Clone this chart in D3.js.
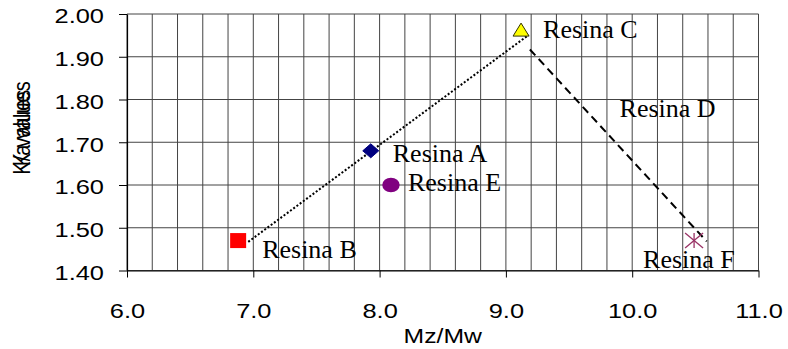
<!DOCTYPE html>
<html>
<head>
<meta charset="utf-8">
<script src="https://cdn.jsdelivr.net/npm/d3@7/dist/d3.min.js"></script>
<style>
  html, body { margin: 0; padding: 0; background: #fff; }
  svg { display: block; }
</style>
</head>
<body>
<svg id="chart" width="788" height="349"></svg>
<script>
// Resin samples: Mz/Mw ratio against K value
const resins  = ["Resina A", "Resina B", "Resina C", "Resina E", "Resina F"];
const mzMw    = [7.93, 6.88, 9.12, 8.09, 10.49];
const kValues = [1.68, 1.47, 1.96, 1.60, 1.47];
const markers = ["diamond", "square", "triangle", "circle", "star"];
const colors  = ["#000080", "#ff0000", "#ffff00", "#800080", "#993366"];

// Resina D is labelled without a plotted marker
const labelOnly  = ["Resina D"];
const labelOnlyX = [9.90];
const labelOnlyY = [1.76];

// Connecting lines drawn between the resin groups
const dottedLine = [[6.96, 1.467], [9.18, 1.951]];
const dashedLine = [[9.19, 1.917], [10.59, 1.468]];

// Axes
const xTicks = [6.0, 7.0, 8.0, 9.0, 10.0, 11.0];
const yTicks = [1.40, 1.50, 1.60, 1.70, 1.80, 1.90, 2.00];
const xGridStep = 0.2;
const xTitle = "Mz/Mw";
const yTitles = ["K values", "K/a values"];

const svg = d3.select("#chart");
const plotL = 127, plotR = 758.5, plotT = 14, plotB = 270.5;

const x = d3.scaleLinear().domain([6, 11]).range([plotL, plotR]);
const y = d3.scaleLinear().domain([1.4, 2.0]).range([plotB, plotT]);

const SANS = "'Liberation Sans', Arial, sans-serif";
const SERIF = "'Liberation Serif', 'Times New Roman', serif";
const sansStretch = 1.27;

// Grid
const xGrid = d3.range(0, Math.round((11 - 6) / xGridStep) + 1).map(i => 6 + i * xGridStep);
const grid = svg.append("g").attr("stroke", "#444").attr("stroke-width", 1);
grid.selectAll("line.v").data(xGrid).join("line")
  .attr("class", "v")
  .attr("x1", d => x(d)).attr("x2", d => x(d))
  .attr("y1", plotT).attr("y2", plotB);
grid.selectAll("line.h").data(yTicks).join("line")
  .attr("class", "h")
  .attr("x1", plotL).attr("x2", plotR)
  .attr("y1", d => y(d)).attr("y2", d => y(d));

// X axis
const xAxis = svg.append("g")
  .attr("transform", `translate(0,${plotB})`)
  .call(d3.axisBottom(x).tickValues(xTicks).tickFormat(d3.format(".1f"))
    .tickSizeInner(7).tickSizeOuter(0));
xAxis.select(".domain").attr("stroke", "#000").attr("stroke-width", 1.2);
xAxis.selectAll(".tick line").attr("stroke", "#000");
xAxis.selectAll(".tick text")
  .attr("y", 0).attr("dy", null)
  .attr("transform", `translate(0,47) scale(${sansStretch},1)`)
  .attr("font-family", SANS).attr("font-size", 20).attr("fill", "#000");

// Y axis
const yAxis = svg.append("g")
  .attr("transform", `translate(${plotL},0)`)
  .call(d3.axisLeft(y).tickValues(yTicks).tickFormat(d3.format(".2f"))
    .tickSizeInner(8).tickSizeOuter(0));
yAxis.select(".domain").attr("stroke", "#000").attr("stroke-width", 1.2);
yAxis.selectAll(".tick line").attr("stroke", "#000");
yAxis.selectAll(".tick text")
  .attr("x", 0).attr("dy", "0.32em")
  .attr("transform", `translate(-23,2.5) scale(${sansStretch},1)`)
  .attr("font-family", SANS).attr("font-size", 20).attr("fill", "#000");

// Axis titles
svg.append("text")
  .attr("transform", `translate(${(plotL + plotR) / 2},343) scale(${sansStretch},1)`)
  .attr("text-anchor", "middle")
  .attr("font-family", SANS).attr("font-size", 19.5)
  .text(xTitle);

svg.selectAll("text.ytitle").data(yTitles).join("text")
  .attr("class", "ytitle")
  .attr("transform", `translate(30,128) scale(1.2,1) rotate(-90)`)
  .attr("text-anchor", "middle")
  .attr("font-family", SANS).attr("font-size", 20)
  .text(d => d);

// Connecting lines
const line = d3.line().x(d => x(d[0])).y(d => y(d[1]));
svg.append("path").datum(dottedLine)
  .attr("d", line).attr("fill", "none")
  .attr("stroke", "#000").attr("stroke-width", 2)
  .attr("stroke-dasharray", "2,2");
svg.append("path").datum(dashedLine)
  .attr("d", line).attr("fill", "none")
  .attr("stroke", "#000").attr("stroke-width", 2)
  .attr("stroke-dasharray", "8,5");

// Markers
const pts = resins.map((name, i) => ({
  name, mx: mzMw[i], k: kValues[i], shape: markers[i], color: colors[i]
}));

const mk = svg.append("g");
pts.forEach(p => {
  const cx = x(p.mx), cy = y(p.k);
  if (p.shape === "diamond") {
    mk.append("path")
      .attr("d", `M${cx},${cy - 7}L${cx + 8},${cy}L${cx},${cy + 7}L${cx - 8},${cy}Z`)
      .attr("fill", p.color).attr("stroke", p.color);
  } else if (p.shape === "square") {
    mk.append("rect")
      .attr("x", cx - 8).attr("y", cy - 7.5).attr("width", 16).attr("height", 15)
      .attr("fill", p.color);
  } else if (p.shape === "triangle") {
    mk.append("path")
      .attr("d", `M${cx},${cy - 8}L${cx + 8},${cy + 5}L${cx - 8},${cy + 5}Z`)
      .attr("fill", p.color).attr("stroke", "#333300").attr("stroke-width", 1);
  } else if (p.shape === "circle") {
    mk.append("ellipse")
      .attr("cx", cx).attr("cy", cy).attr("rx", 8.7).attr("ry", 7.3)
      .attr("fill", p.color);
  } else if (p.shape === "star") {
    const g = mk.append("g").attr("stroke", p.color).attr("stroke-width", 1.3);
    g.append("line").attr("x1", cx - 9).attr("y1", cy - 7.5).attr("x2", cx + 9).attr("y2", cy + 7.5);
    g.append("line").attr("x1", cx - 9).attr("y1", cy + 7.5).attr("x2", cx + 9).attr("y2", cy - 7.5);
    g.append("line").attr("x1", cx).attr("y1", cy - 7.5).attr("x2", cx).attr("y2", cy + 7.5);
  }
});

// Point labels (offsets from each marker, in pixels)
const labelOffsets = {
  "Resina A": [22, 11],
  "Resina B": [24, 17],
  "Resina C": [22, 6.5],
  "Resina E": [17, 6],
  "Resina F": [-51, 27]
};
const labels = svg.append("g")
  .attr("font-family", SERIF).attr("font-size", 25).attr("fill", "#000");
pts.forEach(p => {
  const off = labelOffsets[p.name];
  labels.append("text")
    .attr("transform", `translate(${x(p.mx) + off[0]},${y(p.k) + off[1]}) scale(1.04,1)`)
    .text(p.name);
});
labelOnly.forEach((name, i) => {
  labels.append("text")
    .attr("transform", `translate(${x(labelOnlyX[i])},${y(labelOnlyY[i])}) scale(1.04,1)`)
    .text(name);
});
</script>
</body>
</html>
